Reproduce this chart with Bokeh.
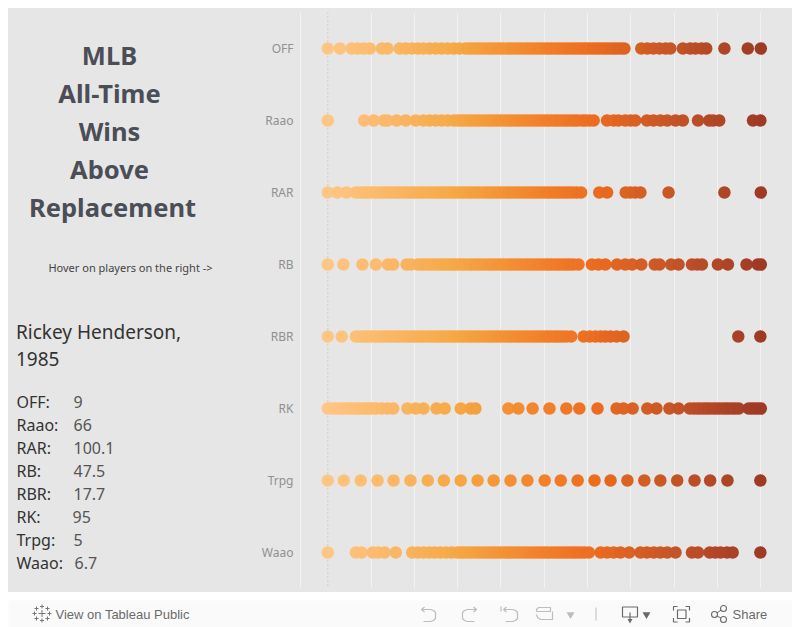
from bokeh.plotting import figure
from bokeh.layouts import column, row
from bokeh.models import Range1d, FactorRange, FixedTicker, Span, ColumnDataSource, LinearColorMapper
from bokeh.core.properties import value
from bokeh.embed import file_html
from bokeh.resources import INLINE

categories = ["OFF", "Raao", "RAR", "RB", "RBR", "RK", "Trpg", "Waao"]

off_vals = [0, 2.8, 5.5, 6.9, 8.3, 9.7, 12.5, 13.8, 16.6, 18, 19.4, 20.8, 22.1, 23.5, 24.9, 26.3, 27.7, 29.1, 30.4,
            31.8, 32.6, 33.3, 34, 34.8, 35.5, 36.2, 37, 37.7, 38.4, 39.2, 39.9, 40.6, 41.4, 42.1, 42.8, 43.6, 44.3,
            45, 45.8, 46.5, 47.2, 48, 48.7, 49.4, 50.2, 50.9, 51.6, 52.4, 53.1, 53.8, 54.6, 55.3, 56, 56.8, 57.5,
            58.2, 59, 59.7, 60.4, 61.2, 61.9, 62.6, 63.4, 64.1, 64.8, 65.6, 66.3, 67, 67.8, 68.5,
            72.4, 73.8, 75.2, 76.6, 78, 79.1, 82, 83.7, 84.9, 86.3, 87.4, 91.6, 97, 100]
raao_vals = [0, 8.4, 10.6, 13, 13.8, 15.9, 18, 20.3, 22.1, 23.5, 24.9, 26.3, 27.7, 29.1, 30, 30.7, 31.4, 32.2, 32.9,
             33.6, 34.4, 35.1, 35.8, 36.6, 37.3, 38, 38.8, 39.5, 40.2, 41, 41.7, 42.4, 43.2, 43.9, 44.6, 45.4, 46.1,
             46.8, 47.6, 48.3, 49, 49.8, 50.5, 51.2, 52, 52.7, 53.4, 54.2, 54.9, 55.6, 56.4, 57.1, 57.8, 58.8, 59.5,
             60.4, 61.4, 64.5, 66, 67.1, 68.7, 69.9, 71, 73.7, 75.2, 76.8, 78.4, 80.3, 82, 85.5, 88.1, 89, 90.4,
             98.2, 99.9]
rar_vals = [0, 2.2, 4.3, 6.5, 7.2, 8, 8.7, 9.4, 10.2, 10.9, 11.6, 12.4, 13.1, 13.8, 14.6, 15.3, 16, 16.8, 17.5, 18.2,
            19, 19.7, 20.4, 21.2, 21.9, 22.6, 23.4, 24.1, 24.8, 25.6, 26.3, 27, 27.8, 28.5, 29.2, 30, 30.7, 31.4,
            32.2, 32.9, 33.6, 34.4, 35.1, 36, 36.8, 37.5, 38.2, 39, 39.7, 40.4, 41.2, 41.9, 42.6, 43.4, 44.1, 44.8,
            45.6, 46.3, 47, 47.8, 48.5, 49.2, 50, 50.7, 51.4, 52.2, 52.9, 53.6, 54.4, 55.1, 55.8, 56.6, 57.5, 58.5,
            62.7, 64.5, 68.8, 69.9, 71, 72.2, 78.7, 91.6, 100]
rb_vals = [0, 3.6, 8, 11.1, 13.9, 15.1, 18.2, 19.2, 20.8, 21.6, 22.3, 23, 23.8, 24.5, 25.2, 26, 26.7, 27.4, 28.2,
           28.9, 29.6, 30.4, 31.1, 31.8, 32.6, 33.3, 34, 34.8, 35.5, 36.2, 37, 37.7, 38.4, 39.2, 39.9, 40.6, 41.4,
           42.1, 42.8, 43.6, 44.3, 45, 45.8, 46.5, 47.2, 48, 48.7, 49.4, 50.2, 50.9, 51.6, 52.4, 53.1, 53.8, 54.6,
           55.3, 56, 56.8, 57.9, 61, 62.5, 64.1, 66.8, 68.7, 70.3, 72.4, 75.5, 76.6, 79.3, 81, 84.1, 85.3, 86.4,
           90.1, 92.4, 96.7, 99.3, 100]
rbr_vals = [0, 3.2, 6.5, 7.2, 8, 8.7, 9.4, 10.2, 10.9, 11.6, 12.4, 13.1, 13.8, 14.6, 15.3, 16, 16.8, 17.5, 18.2, 19,
            19.7, 20.4, 21.2, 21.9, 22.6, 23.4, 24.1, 24.8, 25.6, 26.3, 27, 27.8, 28.5, 29.2, 30, 30.7, 31.4, 32.2,
            32.9, 33.6, 34.4, 35.1, 35.8, 36.6, 37.3, 38, 38.8, 39.5, 40.2, 41, 41.7, 42.4, 43.2, 43.9, 44.6, 45.4,
            46.1, 46.8, 47.6, 48.3, 49, 49.8, 50.5, 51.2, 52, 52.7, 53.4, 54.2, 55.1, 56.2, 59.1, 60.5, 61.8, 63,
            64.1, 65.3, 66.7, 68.3, 94.8, 99.9]
rk_vals = [0, 0.7, 1.4, 2.1, 2.8, 3.5, 4.2, 4.9, 5.6, 6.3, 7, 7.7, 8.4, 9.1, 9.8, 10.5, 11.2, 12.5, 13.8, 15.1, 18.4,
           20.3, 22.1, 25.1, 27, 30.7, 33, 34.1, 41.7, 44, 47.3, 51.2, 55.1, 58.1, 62.3, 66.7, 68.3, 70.4, 73.8, 75.9,
           78.9, 81, 83.6, 84.5, 85.3, 86, 86.8, 87.5, 88.2, 89, 89.7, 90.4, 91.2, 91.9, 92.6, 93.4, 94.1, 94.9,
           97.2, 97.9, 98.6, 99.3, 100]
trpg_vals = [0, 3.7, 7.6, 11.5, 15.2, 19.1, 23.1, 26.8, 30.7, 34.6, 38.3, 42.2, 46.1, 50.1, 53.8, 57.7, 61.6, 65.3,
             69.2, 73.1, 76.8, 80.7, 84.7, 88.3, 92.3, 99.9]
waao_vals = [0, 6.5, 7.8, 10.4, 11.6, 13.1, 15.7, 19.5, 20.8, 22.1, 23.4, 24.7, 26, 27.3, 28.6, 29.9, 30.6, 31.3,
             32.1, 32.8, 33.5, 34.3, 35, 35.7, 36.5, 37.2, 37.9, 38.7, 39.4, 40.1, 40.9, 41.6, 42.3, 43.1, 43.8, 44.5,
             45.3, 46, 46.7, 47.5, 48.2, 48.9, 49.7, 50.4, 51.1, 51.9, 52.6, 53.3, 54.1, 54.8, 55.5, 56.3, 57, 57.7,
             58.5, 59.3, 60.3, 63, 64.5, 66, 67.6, 69.6, 72.2, 73.7, 75.3, 76.8, 78.4, 80.3, 84.1, 85.5, 88.2, 89.5,
             90.7, 92.2, 93.5, 99.9]
series = [off_vals, raao_vals, rar_vals, rb_vals, rbr_vals, rk_vals, trpg_vals, waao_vals]

grid_ticks = [10, 20, 30, 40, 50, 60, 70, 80, 90, 100]

title_lines = ["MLB", "All-Time", "Wins", "Above", "Replacement"]
hint_text = "Hover on players on the right ->"
player_lines = ["Rickey Henderson,", "1985"]
stat_labels = ["OFF:", "Raao:", "RAR:", "RB:", "RBR:", "RK:", "Trpg:", "Waao:"]
stat_values = ["9", "66", "100.1", "47.5", "17.7", "95", "5", "6.7"]


def hexc(c):
    return tuple(int(c[i:i + 2], 16) for i in (1, 3, 5))


stops = [(0.0, "#ffc685"), (0.3, "#f6a845"), (0.5, "#f2812a"), (0.62, "#ec6c20"), (0.8, "#c55427"), (1.0, "#9e3a26")]
palette = []
for k in range(256):
    t = k / 255
    for (a, ca), (b, cb) in zip(stops, stops[1:]):
        if a <= t <= b:
            f = (t - a) / (b - a)
            ra, rb_ = hexc(ca), hexc(cb)
            palette.append("#%02x%02x%02x" % tuple(round(ra[i] + (rb_[i] - ra[i]) * f) for i in range(3)))
            break

FONT = "Noto Sans"
PANEL = "#e6e6e6"
H = 584
LEFT_W = 232

# Left text panel, in page pixel coordinates
left = figure(width=LEFT_W, height=H, output_backend="svg", toolbar_location=None,
              x_range=Range1d(8, 8 + LEFT_W), y_range=Range1d(592, 8),
              min_border=0, background_fill_color=PANEL, border_fill_color=PANEL, outline_line_color=None)
left.frame_align = False
left.axis.visible = False
left.grid.visible = False


def txt(s, x, y, size, color, weight="normal", align="left"):
    left.text([x], [y], text=[s], text_font=value(FONT), text_font_size=f"{size}px", text_color=color,
              text_font_style=weight, text_align=align, text_baseline="middle")


for s, cx, cy in zip(title_lines, [109, 109, 109, 109, 112], [54, 92, 130, 168, 206]):
    txt(s, cx, cy, 25.5, "#4b4e57", "bold", "center")
txt(hint_text, 130, 267, 11, "#444444", "normal", "center")
for s, cy in zip(player_lines, [331, 358]):
    txt(s, 15.5, cy, 19, "#333333")
stat_y = [401, 424, 447, 470, 493, 516, 539, 562]
stat_x = [73, 73, 73, 73, 73, 72, 73, 74]
for a, b, yy, xx in zip(stat_labels, stat_values, stat_y, stat_x):
    txt(a, 16, yy, 16, "#333333")
    txt(b, xx, yy, 16, "#555555")

# Dot chart
p = figure(width=784 - LEFT_W, height=H, output_backend="svg", toolbar_location=None,
           x_range=Range1d(-6.30, 107.32), y_range=FactorRange(*reversed(categories)),
           min_border_left=292 - LEFT_W, min_border_right=0, min_border_top=4, min_border_bottom=4,
           background_fill_color=PANEL, border_fill_color=PANEL, outline_line_color=None)
p.frame_align = False
p.xaxis.visible = False
p.xaxis.ticker = FixedTicker(ticks=grid_ticks)
p.xgrid.ticker = FixedTicker(ticks=grid_ticks)
p.xgrid.grid_line_color = "#f2f2f2"
p.xgrid.grid_line_width = 1
p.ygrid.grid_line_color = None
p.yaxis.axis_line_color = "#f2f2f2"
p.yaxis.major_tick_line_color = None
p.yaxis.minor_tick_line_color = None
p.yaxis.major_tick_out = 0
p.yaxis.major_tick_in = 0
p.yaxis.major_label_text_color = "#909090"
p.yaxis.major_label_text_font = FONT
p.yaxis.major_label_text_font_size = "12px"
p.yaxis.major_label_standoff = 7
p.y_range.range_padding = 0
p.y_range.factor_padding = 0
p.y_range.group_padding = 0

p.add_layout(Span(location=0, dimension="height", line_color="#bdbdbd", line_width=1.2, line_dash="1 3", level="underlay"))

xs, ys = [], []
for cat, vals in zip(categories, series):
    xs += vals
    ys += [cat] * len(vals)
src = ColumnDataSource(dict(x=xs, y=ys))
mapper = LinearColorMapper(palette=palette, low=0, high=100)
p.scatter("x", "y", source=src, size=12.5, line_color=None,
          fill_color={"field": "x", "transform": mapper}, fill_alpha=1)

# Footer bar, drawn in page pixel coordinates
bar = figure(width=784, height=27, output_backend="svg", toolbar_location=None,
             x_range=Range1d(8, 792), y_range=Range1d(627, 600),
             min_border=0, background_fill_color="#fafafa", border_fill_color="#fafafa", outline_line_color=None)
bar.frame_align = False
bar.axis.visible = False
bar.grid.visible = False
GR, DK = "#bdbdbd", "#6a6a6a"
bar.text([55], [613.5], text=["View on Tableau Public"], text_font=value("Liberation Sans"), text_font_size="13px",
         text_color=DK, text_baseline="middle")
bar.text([732], [613.5], text=["Share"], text_font=value("Liberation Sans"), text_font_size="13px",
         text_color=DK, text_baseline="middle")
bar.scatter([41.5, 36, 47, 41.5, 41.5, 36, 47], [613, 608, 608, 606, 620, 618, 618], marker="cross",
            size=[7, 4, 4, 4, 4, 4, 4], line_color="#777777", line_width=1)
bar.scatter([34, 49], [613, 613], marker="cross", size=4, line_color="#777777")


def arrow_icon(x0, flip, color):
    sgn = -1 if flip else 1
    px = [0, 9, 12, 14, 14, 12, 9, 2]
    py = [609, 609, 610, 612, 618, 620, 621, 621]
    bar.line([x0 + sgn * v for v in px], py, line_color=color, line_width=1.2)
    bar.line([x0 + sgn * 3, x0, x0 + sgn * 3], [606.5, 609, 611.5], line_color=color, line_width=1.2)


arrow_icon(421, False, GR)
arrow_icon(476, True, GR)
arrow_icon(503, False, GR)
bar.line([500.5, 500.5], [606, 611], line_color=GR, line_width=1.2)
bar.line([536, 550, 550, 538, 536, 536], [611, 611, 607, 607, 609, 611], line_color=GR, line_width=1.2)
bar.line([536, 537, 540, 552, 552], [614, 617, 619, 619, 611], line_color=GR, line_width=1.2)
bar.scatter([570], [614], marker="inverted_triangle", size=8, fill_color=GR, line_color=None)
bar.line([595.5, 595.5], [607, 620], line_color=GR, line_width=1)
bar.line([629, 622, 622, 637, 637, 629], [616.5, 616.5, 606.5, 606.5, 616.5, 616.5], line_color=DK, line_width=1.2)
bar.line([629.5, 629.5], [612, 620], line_color=DK, line_width=1.2)
bar.scatter([629.5], [620], marker="inverted_triangle", size=5, fill_color=DK, line_color=None)
bar.scatter([646], [614], marker="inverted_triangle", size=8, fill_color=DK, line_color=None)
bar.quad(left=[677], right=[685.5], top=[609.5], bottom=[618], fill_color=None, line_color=DK, line_width=1.2)
bar.line([677, 673, 673], [606, 606, 610], line_color=DK, line_width=1.2)
bar.line([685, 689, 689], [606, 606, 610], line_color=DK, line_width=1.2)
bar.line([677, 673, 673], [621.5, 621.5, 617.5], line_color=DK, line_width=1.2)
bar.line([685, 689, 689], [621.5, 621.5, 617.5], line_color=DK, line_width=1.2)
bar.line([723, 714, 723], [608, 614, 619], line_color=DK, line_width=1)
bar.scatter([723, 714, 723], [608, 614, 619], marker="circle", size=6, fill_color="#fafafa", line_color=DK, line_width=1.1)

upper = row(left, p, spacing=0, styles={"background-color": PANEL})
layout = column(upper, bar, spacing=8, margin=(8, 0, 0, 8))
open("out.html", "w").write(file_html(layout, INLINE))
